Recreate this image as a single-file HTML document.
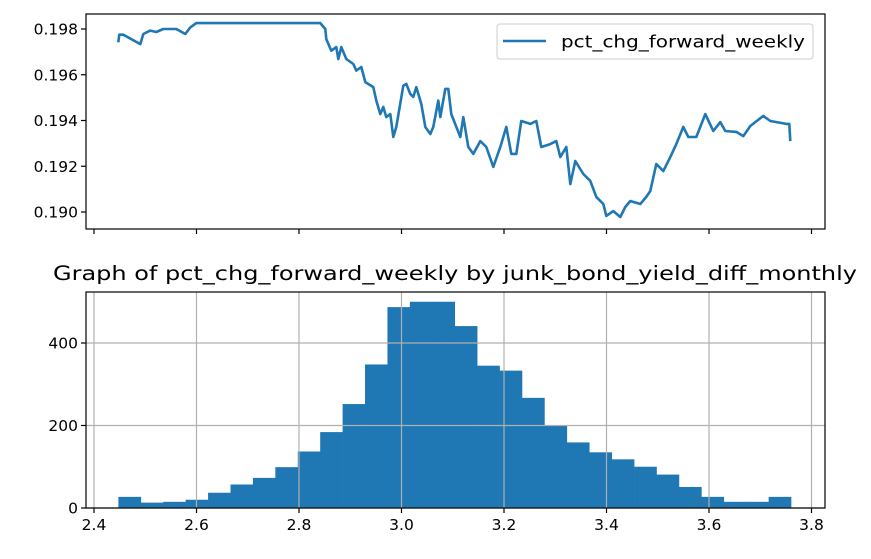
<!DOCTYPE html>
<html><head><meta charset="utf-8"><style>
html,body{margin:0;padding:0;background:#fff;}
svg text{font-family:"DejaVu Sans","Liberation Sans",sans-serif;fill:#000;}
</style></head><body>
<svg id="chart" width="871" height="554" viewBox="0 0 871 554" xmlns="http://www.w3.org/2000/svg">
<g id="topPanel"></g>
<g id="botPanel"></g>
</svg>
<script>
// ---- top line chart data ----
const lineT = [0,1,5,22,25,32,38,45,58,67,72,78,202,207,208,213,218,220,223,228,235,238,243,247,255,258,262,265,268,272,275,278,285,288,292,295,298,303,307,312,315,320,322,327,330,333,342,345,350,355,362,368,375,382,388,393,398,403,412,418,423,432,438,442,448,452,457,465,472,478,485,488,495,502,507,512,522,528,532,538,545,552,558,565,570,578,587,595,602,607,618,625,632,645,652,668,671,672];
const lineV = [0.19742,0.19775,0.19775,0.19734,0.19778,0.19793,0.19787,0.19800,0.19800,0.19778,0.19807,0.19826,0.19826,0.19800,0.19756,0.19705,0.19721,0.19669,0.19721,0.19669,0.19647,0.19618,0.19634,0.19568,0.19546,0.19487,0.19428,0.19459,0.19415,0.19428,0.19328,0.19372,0.19552,0.19560,0.19516,0.19503,0.19546,0.19472,0.19372,0.19341,0.19372,0.19487,0.19415,0.19538,0.19538,0.19428,0.19328,0.19415,0.19284,0.19254,0.19310,0.19284,0.19197,0.19284,0.19372,0.19254,0.19254,0.19398,0.19385,0.19398,0.19284,0.19297,0.19310,0.19240,0.19284,0.19122,0.19223,0.19166,0.19136,0.19066,0.19035,0.18983,0.19004,0.18978,0.19022,0.19048,0.19035,0.19066,0.19092,0.19210,0.19179,0.19240,0.19297,0.19372,0.19328,0.19328,0.19428,0.19354,0.19393,0.19354,0.19350,0.19332,0.19376,0.19420,0.19398,0.19385,0.19385,0.19310];
const topYTicks = [0.190,0.192,0.194,0.196,0.198];
const topYLabels = ["0.190","0.192","0.194","0.196","0.198"];
// ---- histogram data ----
const binStart = 2.4476;
const binWidth = 0.04375;
const binCounts = [27,13,15,20,37,57,73,99,137,184,252,348,487,500,500,441,345,333,267,200,159,135,118,100,81,51,27,15,15,27];
const xTicks = [2.4,2.6,2.8,3.0,3.2,3.4,3.6,3.8];
const xTickLabels = ["2.4","2.6","2.8","3.0","3.2","3.4","3.6","3.8"];
const yTicks = [0,200,400];
const yTickLabels = ["0","200","400"];

const NS="http://www.w3.org/2000/svg";
function mk(tag,attrs,parent){const e=document.createElementNS(NS,tag);for(const k in attrs)e.setAttribute(k,attrs[k]);parent.appendChild(e);return e;}
const L=86,R=825,FS=15.5;
const xs = v => 94 + (v-2.4)*512.5;
const tx = t => 118.3 + t;
const ty = v => 29 + (0.198 - v)/0.001*22.875;
const hy = v => 508 - v*0.4125;

// top panel
const topPanel=document.getElementById('topPanel');
let d=lineT.map((t,i)=>(i?'L':'M')+tx(t).toFixed(1)+' '+ty(lineV[i]).toFixed(1)).join(' ');
const ln=mk('path',{d:d,fill:'none',stroke:'#1f77b4','stroke-width':2.6,'stroke-linejoin':'round'},topPanel);


topYTicks.forEach((v,i)=>{
  const y=ty(v);
  const tk=mk('line',{x1:L-5,x2:L,y1:y,y2:y,stroke:'#000','stroke-width':1.2},topPanel);
  
  
  const t=mk('text',{x:L-8,y:y+5.5,'text-anchor':'end','font-size':FS},topPanel);
  t.textContent=topYLabels[i];
  
  
});
xTicks.forEach(v=>{
  const x=xs(v);
  const tk=mk('line',{x1:x,x2:x,y1:229,y2:234,stroke:'#000','stroke-width':1.2},topPanel);
  
  
});
const fr=mk('rect',{x:L,y:14,width:R-L,height:215,fill:'none',stroke:'#000','stroke-width':1.2},topPanel);


const lg=mk('g',{},topPanel);


mk('rect',{x:497,y:24,width:316,height:35,rx:3,fill:'#fff','fill-opacity':0.8,stroke:'#ccc'},lg);
mk('line',{x1:503,x2:546,y1:41,y2:41,stroke:'#1f77b4','stroke-width':2.6},lg);
const lt=mk('text',{x:561,y:47.5,'font-size':FS+1,textLength:244,lengthAdjust:'spacingAndGlyphs'},lg);
lt.textContent='pct_chg_forward_weekly';



// bottom panel
const botPanel=document.getElementById('botPanel');
const tt=mk('text',{x:53,y:280,'font-size':19.5,textLength:804,lengthAdjust:'spacingAndGlyphs'},botPanel);
tt.textContent='Graph of pct_chg_forward_weekly by junk_bond_yield_diff_monthly';


binCounts.forEach((c,i)=>{
  const x0=xs(binStart+i*binWidth), x1=xs(binStart+(i+1)*binWidth);
  const b=mk('rect',{x:x0,y:hy(c),width:x1-x0+0.3,height:508-hy(c),fill:'#1f77b4'},botPanel);
  
  
});
xTicks.forEach((v,i)=>{
  const x=xs(v);
  const g=mk('line',{x1:x,x2:x,y1:292,y2:508,stroke:'#b0b0b0','stroke-width':1.2},botPanel);
  
  
  const tk=mk('line',{x1:x,x2:x,y1:508,y2:513,stroke:'#000','stroke-width':1.2},botPanel);
  
  
  const t=mk('text',{x:x,y:530,'text-anchor':'middle','font-size':FS},botPanel);
  t.textContent=xTickLabels[i];
  
  
});
yTicks.forEach((v,i)=>{
  const y=hy(v);
  const g=mk('line',{x1:L,x2:R,y1:y,y2:y,stroke:'#b0b0b0','stroke-width':1.2},botPanel);
  
  
  const tk=mk('line',{x1:L-5,x2:L,y1:y,y2:y,stroke:'#000','stroke-width':1.2},botPanel);
  
  
  const t=mk('text',{x:L-8,y:y+5.5,'text-anchor':'end','font-size':FS},botPanel);
  t.textContent=yTickLabels[i];
  
  
});
const fb=mk('rect',{x:L,y:292,width:R-L,height:216,fill:'none',stroke:'#000','stroke-width':1.2},botPanel);


</script>
</body></html>
